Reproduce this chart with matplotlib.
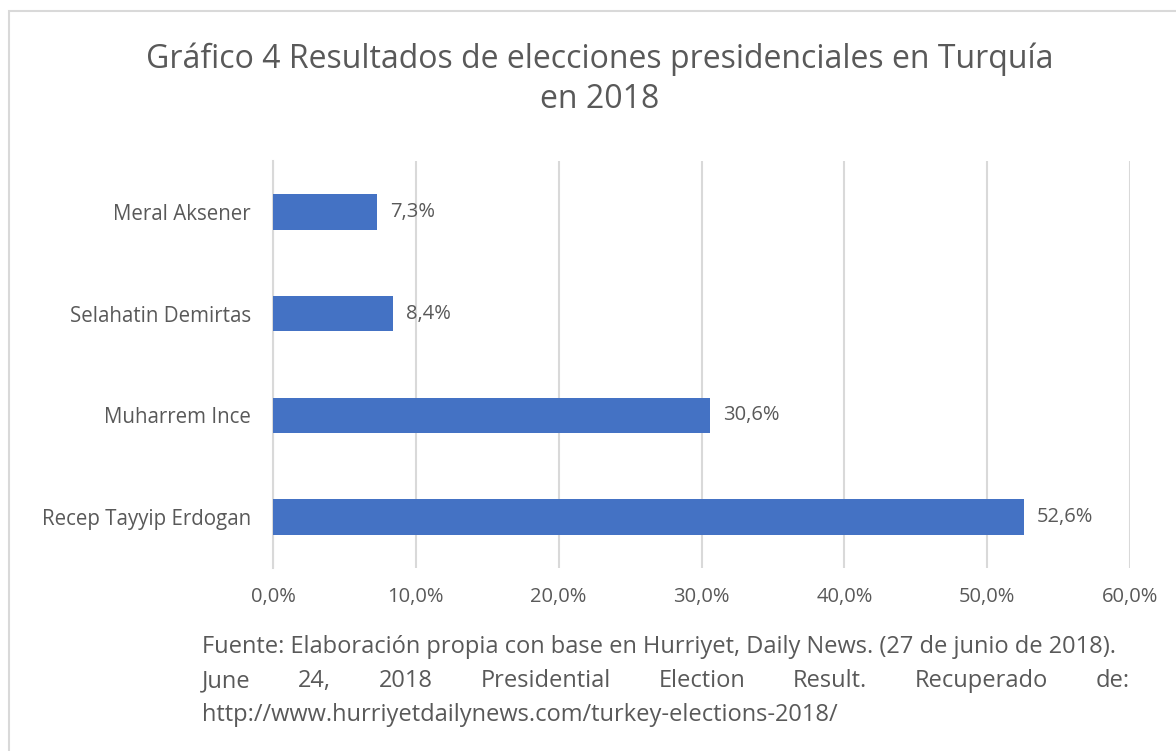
import matplotlib.pyplot as plt
from matplotlib.patches import Rectangle

candidates = ["Recep Tayyip Erdogan", "Muharrem Ince", "Selahatin Demirtas", "Meral Aksener"]
votes = [52.6, 30.6, 8.4, 7.3]
xticks = [0, 10, 20, 30, 40, 50, 60]

title = "Gráfico 4 Resultados de elecciones presidenciales en Turquía\nen 2018"
source_1 = "Fuente: Elaboración propia con base en Hurriyet, Daily News. (27 de junio de 2018)."
source_2 = "June 24, 2018 Presidential Election Result. Recuperado de:"
source_3 = "http://www.hurriyetdailynews.com/turkey-elections-2018/"

grey = "#595959"
plt.rcParams['font.family'] = ['Open Sans', 'DejaVu Sans']

fig = plt.figure(figsize=(11.76, 7.51), dpi=100)
fig.patches.append(Rectangle((9/1176, -0.01), 1.02, 1 - 11/751 + 0.01, transform=fig.transFigure,
                             fill=False, edgecolor="#D9D9D9", linewidth=1.5))

ax = fig.add_axes([273/1176, 1 - 568/751, (1130 - 273)/1176, (568 - 161)/751])
ypos = range(len(candidates))
ax.barh(ypos, votes, height=0.35, color="#4472C4", zorder=3)
for y, v in zip(ypos, votes):
    ax.text(v + 0.9, y, f"{v:.1f}%".replace(".", ","), va="center", ha="left", fontsize=14.5, color=grey)

ax.set_xlim(0, 60)
ax.set_ylim(-0.5, 3.5)
ax.set_xticks(xticks)
ax.set_xticklabels([f"{t:.1f}%".replace(".", ",") for t in xticks], fontsize=14.5, color=grey)
ax.set_yticks(list(ypos))
ax.set_yticklabels(candidates, fontsize=14.8, color=grey)
ax.tick_params(length=0, pad=14)
ax.tick_params(axis="y", pad=16)
ax.grid(axis="x", color="#D9D9D9", linewidth=1.5, zorder=0)
for s in ["top", "right", "bottom"]:
    ax.spines[s].set_visible(False)
ax.spines["left"].set_color("#D9D9D9")
ax.spines["left"].set_linewidth(1.5)

fig.text(600/1176, 1 - 79/751, title, ha="center", va="center", fontsize=23, color=grey, linespacing=1.3)

left, right = 202/1176, 1130/1176
fs = 17
fig.text(left, 1 - 653/751, source_1, ha="left", va="baseline", fontsize=fs, color=grey)
fig.text(left, 1 - 721/751, source_3, ha="left", va="baseline", fontsize=fs, color=grey)

# justified second line
words = source_2.split()
renderer = fig.canvas.get_renderer()
tmp = [fig.text(0, 0, w, fontsize=fs) for w in words]
widths = [t.get_window_extent(renderer).width / 1176 for t in tmp]
for t in tmp:
    t.remove()
gap = (right - left - sum(widths)) / (len(words) - 1)
x = left
for w, wd in zip(words, widths):
    fig.text(x, 1 - 687/751, w, ha="left", va="baseline", fontsize=fs, color=grey)
    x += wd + gap

fig.savefig("out.png", dpi=100)
